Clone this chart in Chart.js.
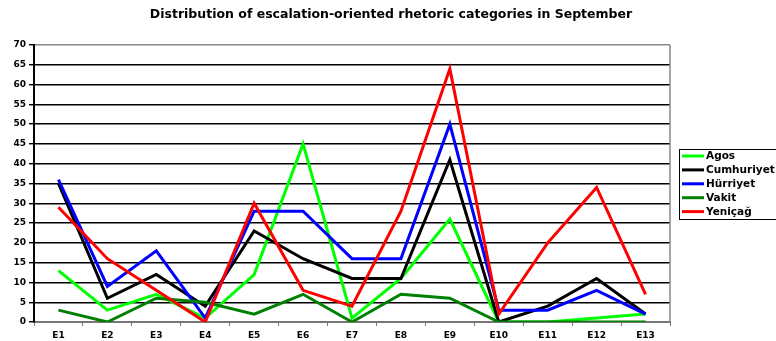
<!DOCTYPE html>
<html><head><meta charset="utf-8">
<script src="https://cdn.jsdelivr.net/npm/chart.js@4/dist/chart.umd.min.js"></script>
<style>html,body{margin:0;padding:0;background:#fff;}#wrap{width:776px;height:341px;}</style>
</head><body><div id="wrap"><canvas id="c" width="776" height="341"></canvas></div>
<script>
const categories = ["E1","E2","E3","E4","E5","E6","E7","E8","E9","E10","E11","E12","E13"];
const seriesNames = ["Agos","Cumhuriyet","Hürriyet","Vakit","Yeniçağ"];
const agos       = [13, 3, 7, 1, 12, 45, 1, 11, 26, 0, 0, 1, 2];
const cumhuriyet = [35, 6, 12, 4, 23, 16, 11, 11, 41, 0, 4, 11, 2];
const hurriyet   = [36, 9, 18, 1, 28, 28, 16, 16, 50, 3, 3, 8, 2];
const vakit      = [3, 0, 6, 5, 2, 7, 0, 7, 6, 0, 0, 0, 0];
const yenicag    = [29, 16, 8, 0, 30, 8, 4, 28, 64, 2, 20, 34, 7];
const colors = ["#00ff00","#000000","#0000ff","#008000","#ff0000"];
const titleText = "Distribution of escalation-oriented rhetoric categories in September";
const FONT = '"DejaVu Sans", Verdana, sans-serif';

const values = [agos, cumhuriyet, hurriyet, vakit, yenicag];
const datasets = values.map((v,i)=>({
  label: seriesNames[i], data: v, borderColor: colors[i], backgroundColor: colors[i],
  borderWidth: 3, pointRadius: 0, tension: 0, fill: false, order: 5 - i
}));

const extras = {
  id: 'extras',
  afterDraw(chart){
    const ctx = chart.ctx, a = chart.chartArea;
    ctx.save();
    // title
    ctx.fillStyle = '#000';
    ctx.font = 'bold 12.5px ' + FONT;
    ctx.textAlign = 'center'; ctx.textBaseline = 'middle';
    ctx.fillText(titleText, 391, 15);
    ctx.strokeStyle = '#888'; ctx.lineWidth = 1.5;
    ctx.beginPath(); ctx.moveTo(a.right, a.top); ctx.lineTo(a.right, a.bottom); ctx.stroke();
    // legend
    const lx = 679, ly = 149, lw = 110, lh = 70;
    ctx.strokeStyle = '#000'; ctx.lineWidth = 1;
    ctx.fillStyle = '#fff';
    ctx.fillRect(lx, ly, lw, lh);
    ctx.strokeRect(lx + 0.5, ly + 0.5, lw, lh);
    ctx.font = 'bold 10.5px ' + FONT;
    ctx.textBaseline = 'middle'; ctx.textAlign = 'left';
    chart.data.datasets.forEach((ds, i) => {
      const y = 156 + i * 13.9;
      ctx.strokeStyle = ds.borderColor; ctx.lineWidth = 3;
      ctx.beginPath(); ctx.moveTo(682, y); ctx.lineTo(704, y); ctx.stroke();
      ctx.fillStyle = '#000';
      ctx.fillText(ds.label, 706, y + 0.5);
    });
    ctx.restore();
  }
};

new Chart(document.getElementById('c'), {
  type: 'line',
  data: { labels: categories, datasets },
  options: {
    responsive: false, animation: false, devicePixelRatio: 1,
    layout: { padding: { left: 0, right: 106, top: 45, bottom: 0 } },
    plugins: {
      legend: { display: false }, tooltip: { enabled: false },
      title: { display: false }
    },
    scales: {
      x: {
        offset: true,
        grid: { display: true, drawOnChartArea: false, offset: true, drawTicks: true, tickLength: 4, color: '#777', lineWidth: 1 },
        border: { display: true, color: '#777', width: 2 },
        ticks: { color: '#000', padding: 4, maxRotation: 0, autoSkip: false,
          font: { family: FONT, size: 9, weight: 'bold' } },
        afterFit(s){ s.height = 19; }
      },
      y: {
        min: 0, max: 70,
        grid: { color: (c) => (c.tick && (c.tick.value === 70)) ? '#888' : '#000', lineWidth: 1.4, drawTicks: true, tickLength: 5, tickColor: '#000' },
        border: { display: true, color: '#000', width: 2 },
        ticks: { stepSize: 5, color: '#000', padding: 3,
          font: { family: FONT, size: 9, weight: 'bold' } },
        afterFit(s){ s.width = 34; }
      }
    }
  },
  plugins: [extras]
});
</script></body></html>
